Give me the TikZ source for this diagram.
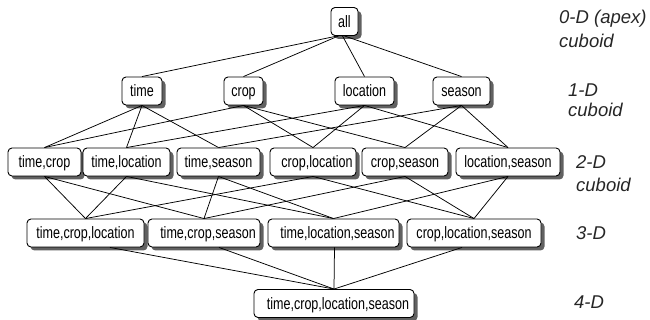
\documentclass[tikz,border=0pt]{standalone}
\usepackage{fontspec}
\setmainfont{Liberation Sans}
\newfontfamily\cellfont[FakeStretch=0.76]{Liberation Sans}
\usetikzlibrary{shadows}

% text set a little right of the box centre
\newcommand{\rightpad}{\hspace*{8pt}}

\tikzset{
  cell/.style={draw=black, line width=0.9pt, rounded corners=4pt, fill=white,
    minimum height=28pt, inner sep=0pt, text height=11.5pt, text depth=0pt,
    font=\cellfont\fontsize{16.5}{19}\selectfont,
    general shadow={fill=black!62, shadow xshift=3.5pt, shadow yshift=-3.5pt}},
  link/.style={draw=black, line width=0.75pt},
  level/.style={anchor=base west, inner sep=0pt, text=black!85,
    font=\fontsize{18.5}{22}\selectfont\itshape}
}

\begin{document}
\begin{tikzpicture}[x=1pt, y=-1pt]
\useasboundingbox (0,0) rectangle (650,320);

% 0-D
\node[cell, minimum width=27pt] (all) at (344.5,21.5) {all};

% 1-D
\node[cell, minimum width=40pt] (t) at (142,91) {time};
\node[cell, minimum width=39pt] (c) at (243.5,91) {crop};
\node[cell, minimum width=59pt] (l) at (364.5,91) {location};
\node[cell, minimum width=57pt] (s) at (461.5,91) {season};

% 2-D
\node[cell, minimum width=73pt]  (tc) at (44.5,162)  {time,crop};
\node[cell, minimum width=87pt]  (tl) at (126.5,162) {time,location};
\node[cell, minimum width=83pt]  (ts) at (218.5,162) {time,season};
\node[cell, minimum width=86pt]  (cl) at (313,162)   {\rightpad crop,location};
\node[cell, minimum width=86pt]  (cs) at (405,162)   {crop,season};
\node[cell, minimum width=104pt] (ls) at (508,162)   {location,season};

% 3-D
\node[cell, minimum width=117pt] (tcl) at (85.5,233) {time,crop,location};
\node[cell, minimum width=112pt] (tcs) at (204,233)  {\rightpad time,crop,season};
\node[cell, minimum width=131pt] (tls) at (333.5,233) {\rightpad time,location,season};
\node[cell, minimum width=134pt] (cls) at (474,233)  {crop,location,season};

% 4-D
\node[cell, minimum width=160pt] (tcls) at (334,303.5) {\rightpad time,crop,location,season};

% apex to 1-D
\draw[link] ([xshift=-7pt]all.south) -- (t.north);
\draw[link] ([xshift=-6pt]all.south) -- (c.north);
\draw[link] ([xshift=-2pt]all.south) -- (l.north);
\draw[link] (all.south) -- (s.north);

% 1-D to 2-D
\draw[link] (t.south) -- (tc.north);
\draw[link] (t.south) -- (tl.north);
\draw[link] (t.south) -- (ts.north);
\draw[link] (c.south) -- (tc.north);
\draw[link] (c.south) -- (cl.north);
\draw[link] (c.south) -- (cs.north);
\draw[link] (l.south) -- (tl.north);
\draw[link] (l.south) -- (cl.north);
\draw[link] (l.south) -- (ls.north);
\draw[link] (s.south) -- (ts.north);
\draw[link] (s.south) -- (cs.north);
\draw[link] (s.south) -- (ls.north);

% 2-D to 3-D
\draw[link] (tc.south) -- (tcl.north);
\draw[link] (tc.south) -- (tcs.north);
\draw[link] (tl.south) -- (tcl.north);
\draw[link] (tl.south) -- (tls.north);
\draw[link] (ts.south) -- (tcs.north);
\draw[link] (ts.south) -- (tls.north);
\draw[link] (cl.south) -- (tcl.north);
\draw[link] (cl.south) -- (cls.north);
\draw[link] (cs.south) -- (tcs.north);
\draw[link] (cs.south) -- (cls.north);
\draw[link] (ls.south) -- (tls.north);
\draw[link] (ls.south) -- (cls.north);

% 3-D to base
\draw[link] ([xshift=24.5pt]tcl.south) -- (tcls.north);
\draw[link] ([xshift=15pt]tcs.south) -- (tcls.north);
\draw[link] ([xshift=1pt]tls.south) -- (tcls.north);
\draw[link] ([xshift=-12pt]cls.south) -- (tcls.north);

% level captions
\node[level] (l0a) at (559,24)  {0-D (apex)};
\node[level] (l0b) at (559,48)  {cuboid};
\node[level] (l1a) at (568,97)  {1-D};
\node[level] (l1b) at (568,117) {cuboid};
\node[level] (l2a) at (576,169) {2-D};
\node[level] (l2b) at (576,192) {cuboid};
\node[level] (l3)  at (576,240) {3-D};
\node[level] (l4)  at (574,308) {4-D};
\end{tikzpicture}
\end{document}
